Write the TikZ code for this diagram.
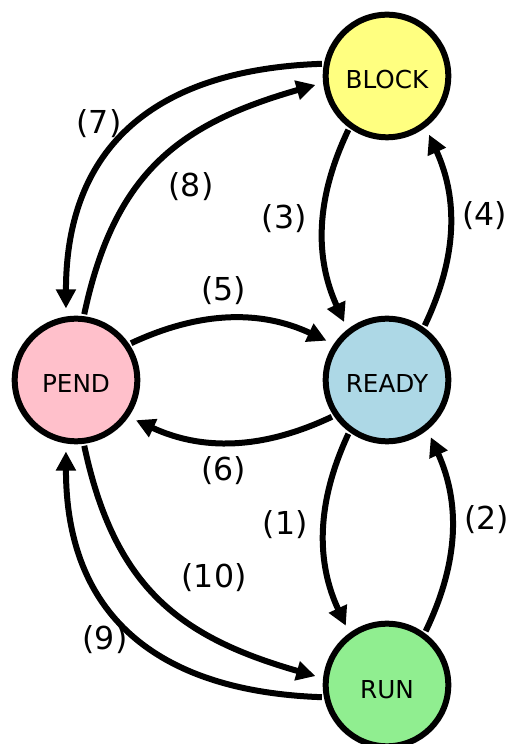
\documentclass[tikz,border=0pt]{standalone}
\usepackage{fontspec}
\setmainfont{DejaVu Sans}
\usetikzlibrary{arrows.meta}
\definecolor{blockyellow}{HTML}{FFFF80}
\definecolor{readyblue}{HTML}{ADD8E6}
\definecolor{pendpink}{HTML}{FFC0CB}
\definecolor{rungreen}{HTML}{90EE90}
\begin{document}
\begin{tikzpicture}[x=0.5pt, y=0.5pt, state/.style={circle, draw, line width=3pt, minimum size=61.3pt, inner sep=0pt, font=\fontsize{12.35}{14}\selectfont, text height=13pt, text depth=0pt}, trans/.style={-{Triangle[length=9.5pt, width=9.5pt]}, line width=3pt, shorten >=4pt, shorten <=1pt}, lbl/.style={font=\fontsize{15.8}{18}\selectfont, inner sep=0pt}]
	\useasboundingbox (0, 0) rectangle (506, 744);
	\node[state, fill=blockyellow] (BLOCK) at (387, 668) {BLOCK};
	\node[state, fill=readyblue] (READY) at (387, 364) {READY};
	\node[state, fill=rungreen] (RUN) at (387, 59) {RUN};
	\node[state, fill=pendpink] (PEND) at (76, 364) {PEND};
	\draw[trans] (READY.234) to[bend right=25] node[lbl, left=7pt, pos=0.46] (l1) {(1)} (RUN.126);
	\draw[trans] (RUN.54) to[bend right=25] node[lbl, right=5pt, pos=0.56] (l2) {(2)} (READY.309);
	\draw[trans] (BLOCK.234) to[bend right=25] node[lbl, left=7pt, pos=0.45] (l3) {(3)} (READY.128);
	\draw[trans] (READY.55) to[bend right=25] node[lbl, right=5pt, pos=0.56] (l4) {(4)} (BLOCK.307);
	\draw[trans] (PEND.34) to[bend left=25] node[lbl, above=5.5pt, pos=0.46] (l5) {(5)} (READY.146);
	\draw[trans] (READY.214) to[bend left=25] node[lbl, below=6pt, xshift=2pt, pos=0.56] (l6) {(6)} (PEND.325);
	\draw[trans] (BLOCK.169) to[out=182, in=90, looseness=1.2] node[lbl, left=5pt, xshift=1.5pt, yshift=2.5pt, pos=0.5] (l7) {(7)} (PEND.99);
	\draw[trans] (PEND.83) to[out=78, in=196, looseness=1.13] node[lbl, below right=4.5pt, xshift=-2.5pt, pos=0.5] (l8) {(8)} (BLOCK.186);
	\draw[trans] (RUN.191) to[out=178, in=270, looseness=1.2] node[lbl, left=1.5pt, xshift=1pt, yshift=-4pt, pos=0.5] (l9) {(9)} (PEND.261);
	\draw[trans] (PEND.277) to[out=282, in=164, looseness=1.13] node[lbl, above right=5pt, xshift=3.5pt, yshift=-2.5pt, pos=0.5] (l10) {(10)} (RUN.174);
\end{tikzpicture}
\end{document}
